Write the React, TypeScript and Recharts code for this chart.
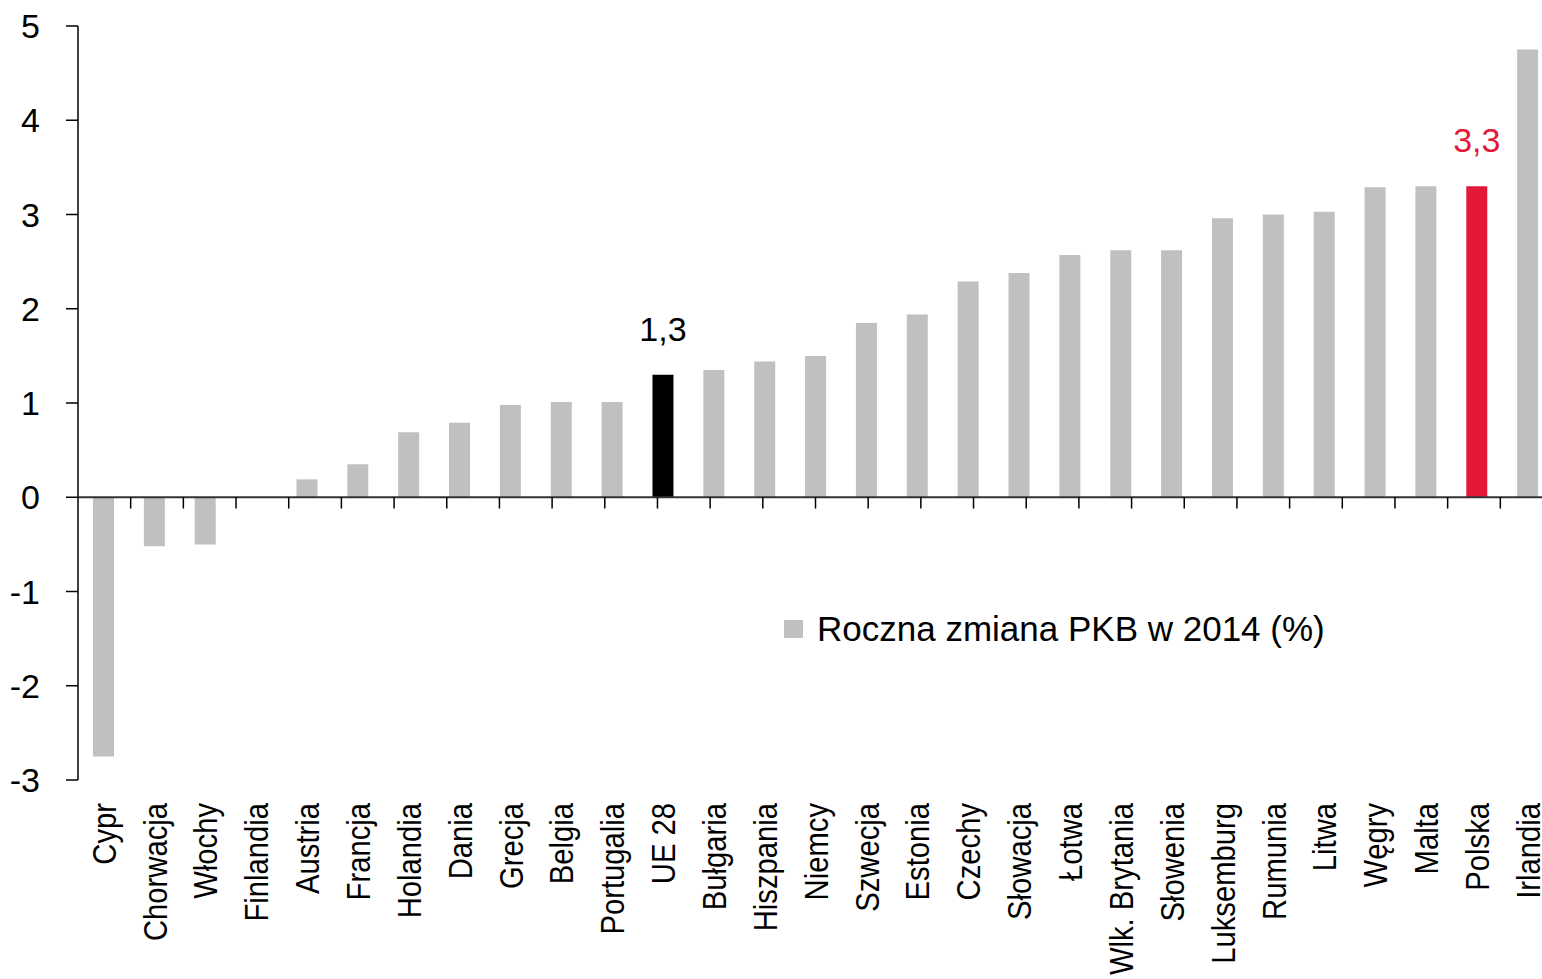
import React from 'react';
import { BarChart, Bar, Cell, XAxis, YAxis, ReferenceLine, LabelList, Legend } from 'recharts';

const countries = [
  'Cypr', 'Chorwacja', 'Włochy', 'Finlandia', 'Austria', 'Francja', 'Holandia', 'Dania',
  'Grecja', 'Belgia', 'Portugalia', 'UE 28', 'Bułgaria', 'Hiszpania', 'Niemcy', 'Szwecja',
  'Estonia', 'Czechy', 'Słowacja', 'Łotwa', 'Wlk. Brytania', 'Słowenia', 'Luksemburg',
  'Rumunia', 'Litwa', 'Węgry', 'Malta', 'Polska', 'Irlandia',
];
const gdpChange = [
  -2.75, -0.52, -0.5, 0, 0.19, 0.35, 0.69, 0.79,
  0.98, 1.01, 1.01, 1.3, 1.35, 1.44, 1.5, 1.85,
  1.94, 2.29, 2.38, 2.57, 2.62, 2.62, 2.96,
  3.0, 3.03, 3.29, 3.3, 3.3, 4.75,
];
const yTicks = [-3, -2, -1, 0, 1, 2, 3, 4, 5];
const seriesName = 'Roczna zmiana PKB w 2014 (%)';

const BAR_GRAY = '#C0C0C0';
const highlight: Record<string, string> = { 'UE 28': '#000000', Polska: '#E31937' };

const data = countries.map((name, i) => ({ name, value: gdpChange[i] }));
const boundaries = countries.map((_, i) => i + 1);
const TICK_DEPTH = -0.12;

const FONT = '"Liberation Sans", Arial, sans-serif';

// labels in the source are set in a narrow face: squeeze regular Arial along the text
function CountryTick({ x, y, payload }: any) {
  return (
    <g transform={`translate(${x}, ${y}) rotate(-90) scale(0.86, 1)`}>
      <text x={0} y={0} textAnchor="end" dy="0.36em" fontSize={34} fontFamily={FONT} fill="#000">
        {payload.value}
      </text>
    </g>
  );
}

function ValueLabel({ x, y, width, value }: any) {
  const color = highlight[value];
  if (!color) return null;
  const v = gdpChange[countries.indexOf(value)];
  return (
    <text x={x + width / 2} y={y - 34} textAnchor="middle" fontSize={34} fontFamily={FONT} fill={color}>
      {v.toFixed(1).replace('.', ',')}
    </text>
  );
}

function LegendContent({ payload }: any) {
  return (
    <div style={{ display: 'flex', alignItems: 'center', fontFamily: FONT, fontSize: 35, whiteSpace: 'nowrap' }}>
      {(payload || []).map((p: any) => (
        <div key={p.value} style={{ display: 'flex', alignItems: 'center' }}>
          <span style={{ display: 'inline-block', width: 19, height: 18, background: BAR_GRAY, marginRight: 14 }} />
          <span>{p.value}</span>
        </div>
      ))}
    </div>
  );
}

export default function App() {
  return (
    <div style={{ position: 'fixed', left: 0, top: 0, width: 1542, height: 979, overflow: 'hidden', background: '#fff' }}>
      <BarChart width={1560} height={979} data={data} margin={{ top: 26, right: 7, bottom: 0, left: 8 }} barSize={21}>
        <XAxis
          dataKey="name"
          interval={0}
          height={199}
          axisLine={false}
          tickLine={false}
          tickSize={0}
          tickMargin={23}
          tick={<CountryTick />}
        />
        <XAxis xAxisId="grid" type="number" domain={[0, countries.length]} hide />
        <YAxis
          domain={[-3, 5]}
          ticks={yTicks}
          width={70}
          tickSize={12}
          tickMargin={26}
          axisLine={{ stroke: '#000', strokeWidth: 1.5 }}
          tickLine={{ stroke: '#000', strokeWidth: 1.5 }}
          tick={{ fontSize: 34, fontFamily: FONT, fill: '#000' }}
        />
        <Legend
          layout="horizontal"
          verticalAlign="middle"
          align="center"
          content={<LegendContent />}
          wrapperStyle={{ left: 784, top: 609, width: 'auto' }}
        />
        <Bar dataKey="value" name={seriesName} fill={BAR_GRAY} isAnimationActive={false}>
          {data.map((d) => (
            <Cell key={d.name} fill={highlight[d.name] || BAR_GRAY} />
          ))}
          <LabelList dataKey="name" content={<ValueLabel />} />
        </Bar>
        <ReferenceLine y={0} stroke="#333" strokeWidth={2} />
        {boundaries.map((b) => (
          <ReferenceLine
            key={b}
            xAxisId="grid"
            stroke="#000"
            strokeWidth={1.5}
            segment={[{ x: b, y: 0 }, { x: b, y: TICK_DEPTH }]}
          />
        ))}
      </BarChart>
    </div>
  );
}
